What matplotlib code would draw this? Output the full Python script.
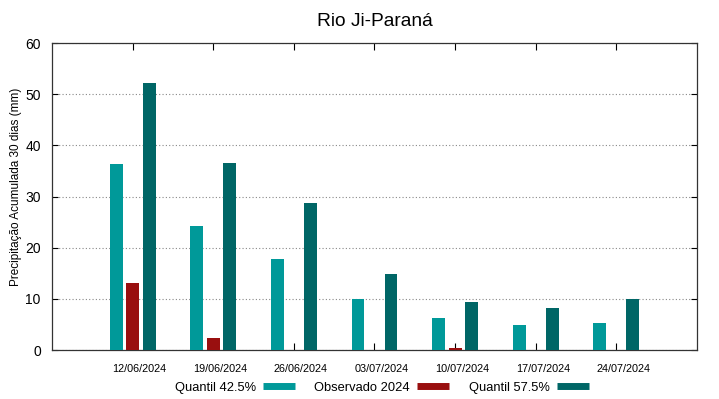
import numpy as np
import matplotlib.pyplot as plt
from matplotlib.lines import Line2D
from matplotlib.transforms import ScaledTranslation

plt.rcParams['font.family'] = ['Liberation Sans', 'DejaVu Sans']

# Data
datas = ['12/06/2024', '19/06/2024', '26/06/2024', '03/07/2024',
         '10/07/2024', '17/07/2024', '24/07/2024']
quantil_425 = [36.3, 24.2, 17.8, 10.0, 6.2, 4.9, 5.3]
observado_2024 = [13.0, 2.4, 0.0, 0.0, 0.3, 0.0, 0.0]
quantil_575 = [52.2, 36.5, 28.8, 14.8, 9.35, 8.2, 10.0]

cor_q425 = '#009999'
cor_obs = '#990f0f'
cor_q575 = '#006666'

fig = plt.figure(figsize=(7.19, 3.99), dpi=100)
ax = fig.add_axes([0.0723, 0.1228, 0.8971, 0.7694])

x = np.arange(len(datas))
w = 0.16
off = 0.205

ax.bar(x - off, quantil_425, width=w, color=cor_q425, zorder=3)
ax.bar(x, observado_2024, width=w, color=cor_obs, zorder=3)
ax.bar(x + off, quantil_575, width=w, color=cor_q575, zorder=3)

ax.set_xlim(-1, 7)
ax.set_ylim(0, 60)
ax.set_xticks(x)
ax.set_xticklabels(datas, fontsize=7.8)
ax.set_yticks(np.arange(0, 61, 10))
ax.tick_params(axis='y', labelsize=10, direction='in', length=4, right=True, pad=8)
ax.tick_params(axis='x', direction='in', length=5, top=True, pad=10)
# gnuplot puts the date labels a little to the right of the tick
shift = ScaledTranslation(7 / 100, 0, fig.dpi_scale_trans)
for lbl in ax.get_xticklabels():
    lbl.set_transform(lbl.get_transform() + shift)
ax.yaxis.grid(True, linestyle=(0, (1, 2)), color='#888888', linewidth=0.8, zorder=0)

for s in ax.spines.values():
    s.set_color('#333333')
    s.set_linewidth(0.9)

ax.set_ylabel('Precipitação Acumulada 30 dias (mm)', fontsize=8.5)
ax.yaxis.set_label_coords(-0.046, 0.53)
ax.set_title('Rio Ji-Paraná', fontsize=13.8, pad=12)

handles = [Line2D([], [], color=c, linewidth=5, solid_capstyle='butt')
           for c in (cor_q425, cor_obs, cor_q575)]
labels = ['Quantil 42.5%', 'Observado 2024', 'Quantil 57.5%']
fig.legend(handles, labels, loc='center', bbox_to_anchor=(0.531, 0.028),
           ncol=3, frameon=False, markerfirst=False, fontsize=9.3,
           handlelength=2.5, columnspacing=1.5, handletextpad=0.55)

fig.savefig('out.png', dpi=100)
